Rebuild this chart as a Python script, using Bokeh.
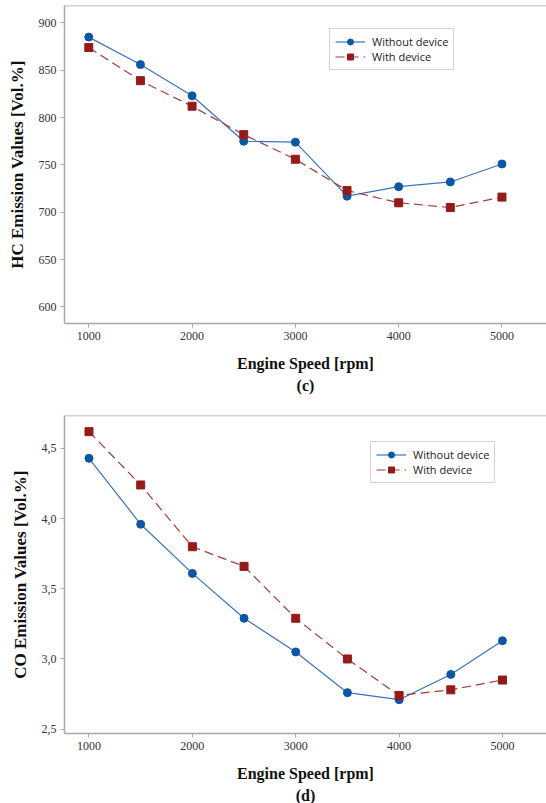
from bokeh.plotting import figure
from bokeh.models import Range1d, FixedTicker, Legend, LegendItem, Title, Span
from bokeh.layouts import column
from bokeh.embed import file_html
from bokeh.resources import INLINE

# ---------------- data ----------------
speed = [1000, 1500, 2000, 2500, 3000, 3500, 4000, 4500, 5000]
hc_without = [885, 856, 823, 775, 774, 717, 727, 732, 751]
hc_with = [874, 839, 812, 782, 756, 723, 710, 705, 716]
co_without = [4.43, 3.96, 3.61, 3.29, 3.05, 2.76, 2.71, 2.89, 3.13]
co_with = [4.62, 4.24, 3.80, 3.66, 3.29, 3.00, 2.74, 2.78, 2.85]

x_ticks = [1000, 2000, 3000, 4000, 5000]
hc_ticks = [600, 650, 700, 750, 800, 850, 900]
co_ticks = [2.5, 3.0, 3.5, 4.0, 4.5]
co_tick_labels = ["2,5", "3,0", "3,5", "4,0", "4,5"]

series_names = ["Without device", "With device"]

BLUE = "#0b57a4"
BLUE_LINE = "#3a74bd"
RED = "#951b1b"
RED_LINE = "#a83a3a"
GRAY = "#a8a8a8"
SERIF = "Liberation Serif"


def panel(width, height, left, top, bottom, xr, yr, yticks, ylabels,
          ylabel, caption, y1, y2, legend_xy):
    p = figure(width=width, height=height, output_backend="svg",
               toolbar_location=None, x_range=Range1d(*xr), y_range=Range1d(*yr),
               min_border_left=left, min_border_right=0, min_border_top=top,
               min_border_bottom=bottom)
    p.outline_line_color = None
    p.grid.visible = False
    p.background_fill_color = "white"
    p.border_fill_color = "white"

    p.xaxis.ticker = FixedTicker(ticks=x_ticks)
    p.yaxis.ticker = FixedTicker(ticks=yticks)
    if ylabels is not None:
        p.yaxis.major_label_overrides = dict(zip(yticks, ylabels))
    for ax in (p.xaxis, p.yaxis):
        ax.axis_line_color = GRAY
        ax.axis_line_width = 1.5
        ax.major_tick_line_color = GRAY
        ax.major_tick_line_width = 1
        ax.major_tick_out = 4
        ax.major_tick_in = 0
        ax.minor_tick_line_color = None
        ax.major_label_text_font = SERIF
        ax.major_label_text_font_size = "12px"
        ax.major_label_text_color = "#333333"
        ax.axis_label_text_font = SERIF
        ax.axis_label_text_font_style = "bold"
        ax.axis_label_text_color = "#111111"
        ax.major_label_standoff = 4
    p.xaxis.axis_label = "Engine Speed [rpm]"
    p.xaxis.axis_label_text_font_size = "16px"
    p.xaxis.axis_label_standoff = 12
    p.yaxis.axis_label = ylabel
    p.yaxis.axis_label_text_font_size = "17px"
    p.yaxis.axis_label_standoff = 9

    p.add_layout(Span(location=yr[1], dimension="width", line_color=GRAY,
                      line_width=1.5))

    l1 = p.line(speed, y1, line_color=BLUE_LINE, line_width=1.2)
    m1 = p.scatter(speed, y1, marker="circle", size=8, fill_color=BLUE,
                   line_color=BLUE)
    l2 = p.line(speed, y2, line_color=RED_LINE, line_width=1.2,
                line_dash="9 5")
    m2 = p.scatter(speed, y2, marker="square", size=8, fill_color=RED,
                   line_color=RED)

    legend = Legend(items=[LegendItem(label=series_names[0], renderers=[l1, m1]),
                           LegendItem(label=series_names[1], renderers=[l2, m2])],
                    location=legend_xy)
    legend.label_text_font = "Open Sans"
    legend.label_text_font_size = "11px"
    legend.label_text_color = "#222222"
    legend.border_line_color = GRAY
    legend.border_line_width = 1.5
    legend.padding = 5
    legend.spacing = 0
    legend.margin = 0
    legend.glyph_width = 30
    legend.glyph_height = 15
    legend.label_height = 15
    legend.label_standoff = 7
    legend.background_fill_color = "white"
    p.add_layout(legend, "center")

    cap = Title(text=caption, align="center", text_font=SERIF,
                text_font_style="bold", text_font_size="16px",
                text_color="#111111", standoff=0)
    p.add_layout(cap, "below")
    return p


p1 = panel(546, 400, 64, 5, 77, (765, 5431), (582.5, 918.4), hc_ticks, None,
           "HC Emission Values [Vol.%]", "(c)", hc_without, hc_with, (265, 253))
p2 = panel(546, 403, 62, 15, 70, (763, 5426), (2.469, 4.735), co_ticks,
           co_tick_labels, "CO Emission Values [Vol.%]", "(d)", co_without,
           co_with, (306, 250))

layout = column(p1, p2, spacing=0)
open("out.html", "w").write(file_html(layout, INLINE))
